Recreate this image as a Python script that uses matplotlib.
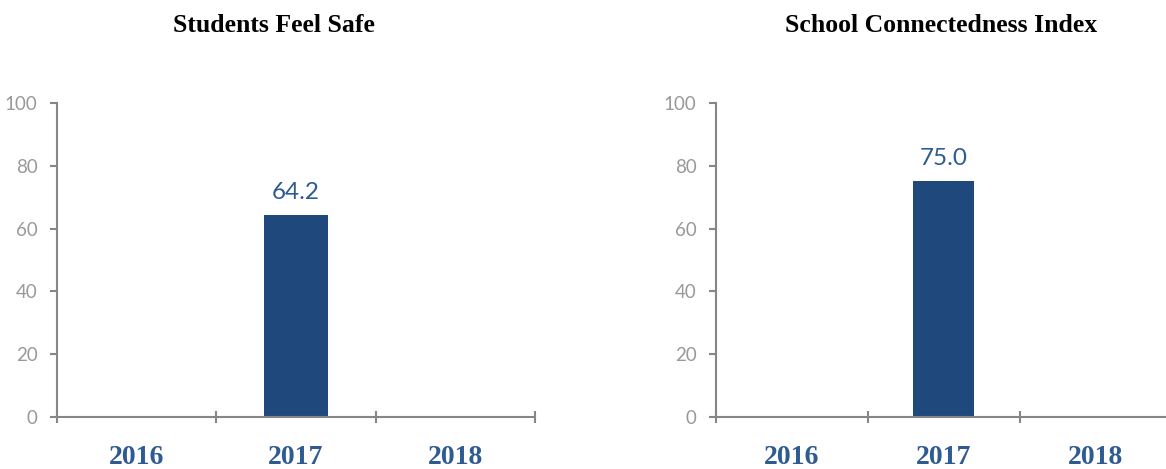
import matplotlib.pyplot as plt
import numpy as np

years = ['2016', '2017', '2018']
feel_safe = [np.nan, 64.2, np.nan]
connectedness = [np.nan, 75.0, np.nan]
titles = ['Students Feel Safe', 'School Connectedness Index']
yticks = [0, 20, 40, 60, 80, 100]

bar_color = '#1f497d'
label_color = '#2f5b93'
axis_color = '#868686'
tick_color = '#999999'

fig = plt.figure(figsize=(11.66, 4.69), dpi=100)
ax1 = fig.add_axes([0.0489, 0.1109, 0.41, 0.6695])
ax2 = fig.add_axes([0.614, 0.1109, 0.391, 0.6695])

title_x = [0.235, 0.807]

for ax, vals, title, tx in zip([ax1, ax2], [feel_safe, connectedness], titles, title_x):
    x = np.arange(len(years))
    ax.bar(x, vals, width=0.4, color=bar_color)
    for xi, v in zip(x, vals):
        if not np.isnan(v):
            ax.text(xi, v + 4, f'{v:.1f}', ha='center', va='bottom',
                    fontsize=17.5, color=label_color, family='Lato')
    ax.set_xlim(-0.5, 2.5)
    ax.set_ylim(0, 100)
    ax.set_yticks(yticks)
    ax.set_xticks([-0.5, 0.5, 1.5, 2.5])
    ax.set_xticklabels([])
    ax.tick_params(axis='x', length=8, width=1.5, color=axis_color, direction='inout')
    ax.tick_params(axis='y', length=5, width=1.5, color=axis_color, labelsize=13.5,
                   labelcolor=tick_color, pad=9)
    for lab in ax.get_yticklabels():
        lab.set_family('Lato')
    for xi, yr in zip(x, years):
        ax.text(xi, -0.13, yr, transform=ax.get_xaxis_transform(), ha='center', va='center',
                fontsize=20, fontweight='bold', color=label_color, family='Liberation Serif')
    for s in ['top', 'right']:
        ax.spines[s].set_visible(False)
    for s in ['left', 'bottom']:
        ax.spines[s].set_color(axis_color)
        ax.spines[s].set_linewidth(1.5)
    fig.text(tx, 0.945, title, ha='center', va='center', fontsize=18.5,
             fontweight='bold', family='Liberation Serif')

fig.savefig('out.png', dpi=100)
